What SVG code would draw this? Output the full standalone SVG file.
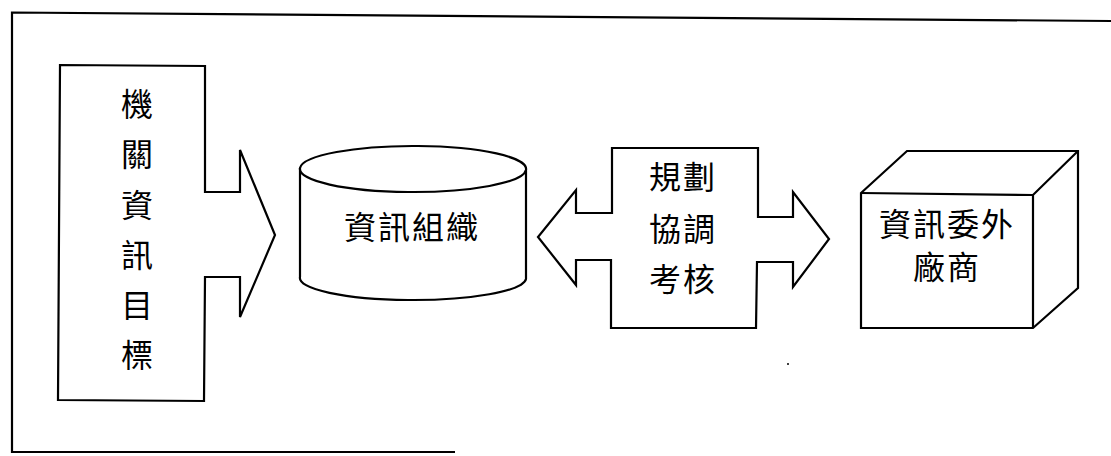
<svg xmlns="http://www.w3.org/2000/svg" width="1111" height="456" viewBox="0 0 1111 456">
<style>
.s{fill:#fff;stroke:#000;stroke-width:2.2;stroke-linejoin:miter}
.f{fill:none;stroke:#000;stroke-width:2.2}
.t{font-family:"Noto Sans CJK TC","Noto Sans CJK SC",sans-serif;font-size:32px;fill:#000;text-anchor:middle;dominant-baseline:central}
.w{letter-spacing:2px}
</style>
<rect width="1111" height="456" fill="#fff"/>
<g id="frame">
<polyline class="f" points="1111,21 12,12.5 12,452 455,452"/>
</g>
<g id="connectors">
<path class="s" d="M60,65 L205,66 L205,192 L240,192 L240,150 L275,235 L240,317 L240,277 L205,277 L204,401 L58,400 Z"/>
<path class="s" d="M612,148 L758,148 L758,217 L793,217 L793,192 L829,239 L793,287 L793,262 L757,262 L756,328 L611,328 L611,260 L576,260 L576,285 L538,237 L576,190 L576,213 L612,213 Z"/>
</g>
<g id="n1">
<text class="t" x="137" y="102">機</text>
<text class="t" x="137" y="152">關</text>
<text class="t" x="137" y="203">資</text>
<text class="t" x="137" y="253">訊</text>
<text class="t" x="137" y="303">目</text>
<text class="t" x="137" y="353">標</text>
</g>
<g id="n2">
<path class="s" d="M300,168 L300,277 A113,22 0 0 0 526,279 L526,170 A113,23 0 0 0 300,168 Z"/>
<path class="f" d="M300,168 A113,23 0 0 0 526,170"/>
<text class="t w" x="412" y="225">資訊組織</text>
</g>
<g id="n3">
<text class="t w" x="683" y="175">規劃</text>
<text class="t w" x="683" y="227">協調</text>
<text class="t w" x="683" y="277">考核</text>
</g>
<g id="n4">
<path class="s" d="M861,193 L907,151 L1078,151 L1078,288 L1033,328 L861,328 Z"/>
<path class="f" d="M861,193 L1033,195 L1078,151 M1033,195 L1033,328"/>
<text class="t w" x="947" y="222">資訊委外</text>
<text class="t w" x="947" y="265">廠商</text>
</g>
<circle cx="788" cy="364" r="1" fill="#000"/>
</svg>
